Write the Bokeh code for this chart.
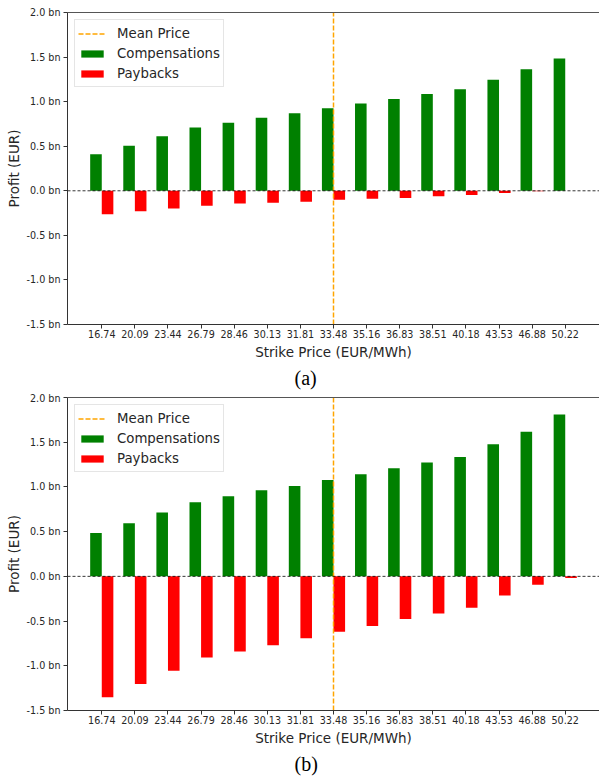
from bokeh.plotting import figure
from bokeh.models import (ColumnDataSource, FactorRange, Range1d, Span, Legend, LegendItem,
                          FixedTicker, LinearAxis, Title)
from bokeh.transform import dodge
from bokeh.layouts import column
from bokeh.embed import file_html
from bokeh.resources import INLINE

# ---------------- data ----------------
strike_prices = ["16.74", "20.09", "23.44", "26.79", "28.46", "30.13", "31.81", "33.48",
                 "35.16", "36.83", "38.51", "40.18", "43.53", "46.88", "50.22"]
mean_price = "33.48"

compensations_a = [0.41, 0.505, 0.612, 0.71, 0.762, 0.818, 0.87, 0.926,
                   0.978, 1.03, 1.086, 1.138, 1.245, 1.364, 1.483]
paybacks_a = [-0.263, -0.230, -0.200, -0.167, -0.144, -0.133, -0.122, -0.100,
              -0.090, -0.081, -0.060, -0.048, -0.026, -0.006, 0.0]

compensations_b = [0.485, 0.593, 0.713, 0.828, 0.896, 0.963, 1.011, 1.078,
                   1.142, 1.209, 1.272, 1.336, 1.478, 1.616, 1.810]
paybacks_b = [-1.352, -1.204, -1.056, -0.907, -0.841, -0.770, -0.693, -0.619,
              -0.556, -0.478, -0.415, -0.352, -0.215, -0.094, -0.019]

y_min, y_max = -1.5, 2.0
y_ticks = [-1.5, -1.0, -0.5, 0.0, 0.5, 1.0, 1.5, 2.0]
y_tick_labels = {t: f"{t:.1f} bn" for t in y_ticks}

FONT = "DejaVu Sans"
TXT = "#262626"
BAR_W = 0.35


def make_panel(comp, payback, caption, border_top, frame_h):
    src = ColumnDataSource(dict(strike=strike_prices, comp=comp, payback=payback))
    p = figure(x_range=FactorRange(factors=strike_prices, range_padding=0.535,
                                   range_padding_units="absolute"),
               y_range=Range1d(y_min, y_max),
               frame_width=532, frame_height=frame_h,
               output_backend="svg", toolbar_location=None,
               min_border_top=border_top, min_border_left=67,
               min_border_right=0, min_border_bottom=68)
    p.xgrid.grid_line_color = None
    p.ygrid.grid_line_color = None
    p.outline_line_color = None
    p.background_fill_color = "white"
    p.border_fill_color = "white"

    g = p.vbar(x=dodge("strike", -BAR_W / 2, range=p.x_range), top="comp", width=BAR_W,
               source=src, fill_color="green", line_color=None)
    r = p.vbar(x=dodge("strike", BAR_W / 2, range=p.x_range), top="payback", width=BAR_W,
               source=src, fill_color="red", line_color=None)

    zero = Span(location=0, dimension="width", line_color="black", line_width=0.8,
                line_dash="3 2")
    p.add_layout(zero)

    mean = p.line(x=[mean_price, mean_price], y=[y_min, y_max], line_color="#FFA500",
                  line_width=1.5, line_dash="5 2")

    legend = Legend(items=[LegendItem(label="Mean Price", renderers=[mean]),
                           LegendItem(label="Compensations", renderers=[g]),
                           LegendItem(label="Paybacks", renderers=[r])],
                    location="top_left", margin=7, padding=3, spacing=0,
                    label_height=20, glyph_height=9, glyph_width=28, label_standoff=11,
                    label_text_font=FONT, label_text_font_size="13.3px",
                    label_text_color=TXT,
                    border_line_color="#cccccc", border_line_width=1,
                    background_fill_color="white", background_fill_alpha=0.85)
    p.add_layout(legend)

    # axes
    for ax in (p.xaxis[0], p.yaxis[0]):
        ax.axis_line_color = "#333333"
        ax.axis_line_width = 1
        ax.major_tick_line_color = "#333333"
        ax.major_tick_out = 4
        ax.major_tick_in = 0
        ax.minor_tick_line_color = None
        ax.major_label_text_font = FONT
        ax.major_label_text_font_size = "9.6px"
        ax.major_label_text_color = TXT
        ax.axis_label_text_font = FONT
        ax.axis_label_text_font_size = "13.5px"
        ax.axis_label_text_font_style = "normal"
        ax.axis_label_text_color = TXT
    p.xaxis.axis_label = "Strike Price (EUR/MWh)"
    p.xaxis.major_label_standoff = 1
    p.xaxis.axis_label_standoff = 3
    p.yaxis.axis_label = "Profit (EUR)"
    p.yaxis.ticker = FixedTicker(ticks=y_ticks)
    p.yaxis.major_label_overrides = y_tick_labels
    p.yaxis.major_label_standoff = 3
    p.yaxis.axis_label_standoff = 2

    top = LinearAxis(ticker=FixedTicker(ticks=[]), axis_line_color="#555555",
                     axis_line_width=1, major_tick_out=0, major_tick_in=0,
                     minor_tick_out=0, minor_tick_in=0, major_label_standoff=0,
                     major_label_text_font_size="0px", axis_label_standoff=0)
    p.add_layout(top, "above")

    p.add_layout(Title(text=caption, align="left", offset=227, standoff=4,
                       text_font="Liberation Serif", text_font_size="20px",
                       text_font_style="normal", text_color="black"), "below")
    return p


p1 = make_panel(compensations_a, paybacks_a, "(a)", 12, 312)
p2 = make_panel(compensations_b, paybacks_b, "(b)", 5, 313)

layout = column(p1, p2, spacing=0)
open("out.html", "w").write(file_html(layout, INLINE))
